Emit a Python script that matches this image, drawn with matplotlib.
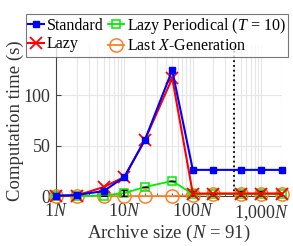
import matplotlib
matplotlib.use("Agg")
import matplotlib.pyplot as plt
from matplotlib.ticker import FixedLocator, LogLocator, NullFormatter

plt.rcParams['font.family'] = ['Liberation Serif', 'DejaVu Serif']
plt.rcParams['mathtext.fontset'] = 'custom'
plt.rcParams['mathtext.rm'] = 'Liberation Serif'
plt.rcParams['mathtext.it'] = 'Liberation Serif:italic'

# archive size in multiples of N
sizes = [1, 2, 5, 10, 20, 50, 100, 200, 500, 1000, 2000]
standard = [0.3, 1, 5, 19, 56, 125, 26, 26, 26, 26, 26]
lazy = [0.3, 0.5, 9, 19, 56, 117, 2.5, 2.5, 2.5, 2.5, 2.5]
lazy_periodic = [0.2, 0.2, 0.5, 3, 9, 15, 2, 2, 2, 2, 2]
lazy_periodic_err = [0, 0, 0, 3, 0, 0, 3, 0, 3, 3, 0]
last_x = [0, 0, 0, 0, 0, 0, 0.8, 2.5, 2.5, 2.5, 2.5]
vline_x = 400

xtick_vals = [1, 10, 100, 1000]
xtick_labels = ['1$N$', '10$N$', '100$N$', '1,000$N$']
ytick_vals = [0, 50, 100]

fig = plt.figure(figsize=(2.93, 2.46), dpi=100)
ax = fig.add_axes([0.191, 0.203, 0.771, 0.614])

ax.plot(sizes, last_x, color='#ff7f27', marker='o', ms=9.5, mfc='none',
        mew=1.1, lw=1.3, zorder=3, clip_on=False, label='Last $X$-Generation')
ax.plot(sizes, lazy_periodic, color='#00ee00', marker='s', ms=6, mfc='none',
        mew=1.1, lw=1.3, zorder=4, clip_on=False,
        label='Lazy Periodical ($T$ = 10)')
ax.errorbar(sizes, lazy_periodic, yerr=lazy_periodic_err, fmt='none',
            ecolor='black', elinewidth=1.2, capsize=2, capthick=1, zorder=5)
ax.plot(sizes, lazy, color='red', marker='x', ms=8, mew=1.3, lw=1.5,
        zorder=6, clip_on=False, label='Lazy')
ax.plot(sizes, standard, color='blue', marker='s', ms=4, lw=1.5,
        zorder=7, clip_on=False, label='Standard')
ax.axvline(vline_x, color='black', ls=':', lw=1.3, zorder=2)

ax.set_xscale('log')
ax.set_xlim(1, 2000)
ax.set_ylim(0, 150)
ax.xaxis.set_major_locator(FixedLocator(xtick_vals))
ax.set_xticklabels(xtick_labels)
ax.xaxis.set_minor_locator(LogLocator(base=10, subs=range(2, 10)))
ax.xaxis.set_minor_formatter(NullFormatter())
ax.set_yticks(ytick_vals)

ax.grid(True, which='both', axis='x', color='#e6e6e6', lw=0.8, zorder=0)
ax.grid(True, which='major', axis='y', color='#e6e6e6', lw=0.8, zorder=0)
ax.set_axisbelow(True)

for s in ['top', 'right']:
    ax.spines[s].set_visible(False)
for s in ['left', 'bottom']:
    ax.spines[s].set_color('#444444')
ax.tick_params(which='both', direction='in', labelsize=13, colors='#444444',
               labelcolor='#333333')
ax.tick_params(axis='x', pad=5)
ax.tick_params(axis='y', pad=4)
ax.tick_params(which='minor', length=2)

ax.set_xlabel('Archive size ($N$ = 91)', fontsize=13.5, color='#333333', labelpad=0)
ax.set_ylabel('Computation time (s)', fontsize=13.5, color='#333333', labelpad=0)

h, l = ax.get_legend_handles_labels()
order = [3, 2, 1, 0]
leg = fig.legend([h[i] for i in order], [l[i] for i in order], ncol=2,
                 loc='upper left', bbox_to_anchor=(0.089, 0.945),
                 fontsize=11.5, frameon=True, fancybox=False, edgecolor='#555555',
                 handlelength=1.0, handletextpad=0.15, columnspacing=0.3,
                 labelspacing=0.15, borderpad=0.15, borderaxespad=0)
leg.get_frame().set_linewidth(0.8)

fig.savefig('out.png', dpi=100)
